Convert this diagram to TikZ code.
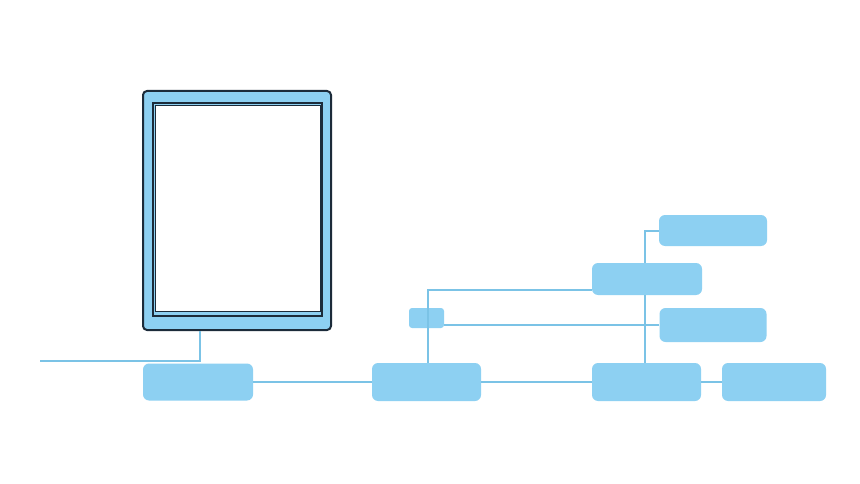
\documentclass[tikz,border=0pt]{standalone}
\usetikzlibrary{calc}
\definecolor{boxfill}{HTML}{8DD0F2}
\definecolor{linec}{HTML}{7BC3E6}
\definecolor{darkb}{HTML}{1C2B3A}
\tikzset{
  blk/.style={rectangle, rounded corners=6pt, fill=boxfill, draw=none, inner sep=0pt},
  conn/.style={draw=linec, line width=2pt},
}
\begin{document}
\begin{tikzpicture}[x=1pt,y=-1pt]
\useasboundingbox[fill=white] (0,0) rectangle (860,484);
% frame
\node[rectangle, rounded corners=4pt, fill=boxfill, draw=darkb, line width=2pt, minimum width=188pt, minimum height=239pt, inner sep=0pt] (frame) at (237,210.5) {};
\node[rectangle, fill=boxfill, draw=darkb, line width=2pt, minimum width=169pt, minimum height=213pt, inner sep=0pt] (inner) at (237.5,209.5) {};
\node[rectangle, fill=white, draw=darkb, line width=0.9pt, minimum width=165pt, minimum height=206pt, inner sep=0pt] (screen) at (237.5,208) {};
% boxes
\node[blk, minimum width=110pt, minimum height=37pt] (b1) at (198,382) {};
\node[blk, minimum width=109pt, minimum height=38pt] (b2) at (426.5,382) {};
\node[blk, minimum width=110pt, minimum height=32pt] (b3) at (647,279) {};
\node[blk, minimum width=108pt, minimum height=31pt] (t) at (713,230.5) {};
\node[blk, minimum width=107pt, minimum height=34pt] (r) at (713,325) {};
\node[blk, minimum width=109pt, minimum height=38pt] (b4) at (646.5,382) {};
\node[blk, minimum width=104pt, minimum height=38pt] (b5) at (774,382) {};
\node[blk, rounded corners=3pt, minimum width=35pt, minimum height=20pt] (sm) at (426.5,318) {};
% connectors
\coordinate (lend) at (40,361);
\coordinate (j1) at (200,361);
\coordinate (j2) at (428,290);
\coordinate (j3) at (645,232);
\draw[conn] (frame.south -| j1) -- (j1) -- (lend);
\draw[conn] (b1.east) -- (b2.west);
\draw[conn] (b2.east) -- (b4.west);
\draw[conn] (b4.east) -- (b5.west);
\draw[conn] (r.west) -- (r.west -| sm.east);
\draw[conn] (b2.north -| j2) -- (j2) -- (j2 -| b3.west);
\draw[conn] (t.west) -- (t.west -| j3) -- (b3.north -| j3);
\draw[conn] (b3.south -| j3) -- (b4.north -| j3);
\end{tikzpicture}
\end{document}
